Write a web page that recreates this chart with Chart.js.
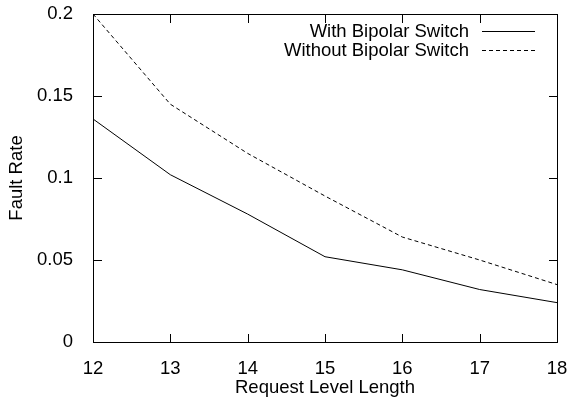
<!DOCTYPE html>
<html>
<head>
<meta charset="utf-8">
<script src="https://cdn.jsdelivr.net/npm/chart.js@4/dist/chart.umd.min.js"></script>
<style>
  html, body { margin: 0; padding: 0; background: #fff; }
</style>
</head>
<body>
<canvas id="faultChart" width="570" height="404"></canvas>
<script>
// Data
const levelLengths = [12, 13, 14, 15, 16, 17, 18];
const withSwitch = [0.136, 0.102, 0.078, 0.052, 0.044, 0.032, 0.024];
const withoutSwitch = [0.200, 0.145, 0.115, 0.089, 0.064, 0.050, 0.035];
const xTicks = [12, 13, 14, 15, 16, 17, 18];
const yTicks = [0, 0.05, 0.1, 0.15, 0.2];

const FONT = 'Liberation Sans, Arial, Helvetica, sans-serif';
const FSIZE = 18.5;

function toPoints(xs, ys) {
    return xs.map((x, i) => ({ x: x, y: ys[i] }));
}

// gnuplot-like frame: box border, inward ticks on all four sides, legend at top right
const frameAndLegend = {
    id: 'frameAndLegend',
    afterDraw(chart) {
        const ctx = chart.ctx;
        const a = chart.chartArea;
        const xs = chart.scales.x, ys = chart.scales.y;
        const tick = 8;
        const L = Math.round(a.left), R = Math.round(a.right);
        const T = Math.round(a.top), B = Math.round(a.bottom);
        ctx.save();
        ctx.fillStyle = '#000';
        ctx.fillRect(L, T, R - L + 1, 1);
        ctx.fillRect(L, B, R - L + 1, 1);
        ctx.fillRect(L, T, 1, B - T + 1);
        ctx.fillRect(R, T, 1, B - T + 1);
        xTicks.forEach(v => {
            const px = Math.round(xs.getPixelForValue(v));
            ctx.fillRect(px, B - tick, 1, tick);
            ctx.fillRect(px, T + 1, 1, tick);
        });
        yTicks.forEach(v => {
            const py = Math.round(ys.getPixelForValue(v));
            ctx.fillRect(L + 1, py, tick, 1);
            ctx.fillRect(R - tick, py, tick, 1);
        });

        // legend
        ctx.font = FSIZE + 'px ' + FONT;
        ctx.textAlign = 'right';
        ctx.textBaseline = 'middle';
        ctx.strokeStyle = '#000';
        ctx.lineWidth = 1;
        chart.data.datasets.forEach((ds, i) => {
            const y = Math.round(T + 17 + i * 18.5);
            ctx.fillText(ds.label, R - 88, y + 1);
            ctx.setLineDash(ds.borderDash || []);
            ctx.beginPath();
            ctx.moveTo(R - 75, y + 0.5);
            ctx.lineTo(R - 22, y + 0.5);
            ctx.stroke();
        });
        ctx.restore();
    }
};

new Chart(document.getElementById('faultChart'), {
    type: 'line',
    data: {
        datasets: [{
            label: 'With Bipolar Switch',
            data: toPoints(levelLengths, withSwitch),
            borderColor: '#000',
            borderWidth: 1,
            pointRadius: 0,
            fill: false,
            tension: 0
        }, {
            label: 'Without Bipolar Switch',
            data: toPoints(levelLengths, withoutSwitch),
            borderColor: '#000',
            borderWidth: 1,
            borderDash: [4, 3],
            pointRadius: 0,
            fill: false,
            tension: 0
        }]
    },
    options: {
        responsive: false,
        animation: false,
        layout: { padding: { top: 14, right: 13, left: 0, bottom: 0 } },
        plugins: {
            legend: { display: false },
            tooltip: { enabled: false }
        },
        scales: {
            x: {
                type: 'linear',
                min: 12,
                max: 18,
                afterBuildTicks: s => { s.ticks = xTicks.map(v => ({ value: v })); },
                afterFit: s => { s.height = 62; s.paddingLeft = 0; s.paddingRight = 0; },
                grid: { display: false },
                border: { display: true, color: '#000', width: 1 },
                ticks: {
                    color: '#000',
                    font: { family: FONT, size: FSIZE },
                    padding: 8,
                    maxRotation: 0,
                    callback: v => String(v)
                },
                title: {
                    display: true,
                    text: 'Request Level Length',
                    color: '#000',
                    font: { family: FONT, size: FSIZE },
                    padding: { top: 0, bottom: 5 }
                }
            },
            y: {
                type: 'linear',
                min: 0,
                max: 0.2,
                afterBuildTicks: s => { s.ticks = yTicks.map(v => ({ value: v })); },
                afterFit: s => { s.width = 93; s.paddingTop = 0; s.paddingBottom = 0; },
                grid: { display: false },
                border: { display: true, color: '#000', width: 1 },
                ticks: {
                    color: '#000',
                    font: { family: FONT, size: FSIZE },
                    padding: 12,
                    callback: v => String(parseFloat(Number(v).toFixed(2)))
                },
                title: {
                    display: true,
                    text: 'Fault Rate',
                    color: '#000',
                    font: { family: FONT, size: FSIZE },
                    padding: { top: 6, bottom: 0 }
                }
            }
        }
    },
    plugins: [frameAndLegend]
});
</script>
</body>
</html>
